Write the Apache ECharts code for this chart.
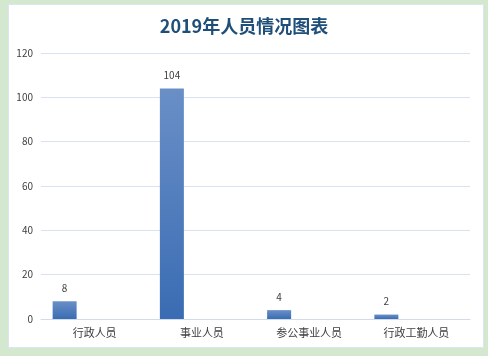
<!DOCTYPE html>
<html>
<head>
<meta charset="utf-8">
<script src="https://cdn.jsdelivr.net/npm/echarts@6/dist/echarts.min.js"></script>
<style>
html,body{margin:0;padding:0;background:#d3e8cf;}
#c{width:488px;height:356px;}
</style>
</head>
<body>
<div id="c"></div>
<script>
const titleText = '2019年人员情况图表';
const categories = ['行政人员', '事业人员', '参公事业人员', '行政工勤人员'];
const values = [8, 104, 4, 2];
const emptySeries = [null, null, null, null];
const yTicks = { min: 0, max: 120, interval: 20 };

const chart = echarts.init(document.getElementById('c'), null, { renderer: 'canvas' });
const font = '"Noto Sans CJK SC", "Noto Sans", sans-serif';
chart.setOption({
  backgroundColor: '#d3e8cf',
  animation: false,
  graphic: [{
    type: 'rect', z: -10, silent: true,
    shape: { x: 8.5, y: 4.5, width: 475, height: 343 },
    style: { fill: '#ffffff', stroke: '#dce6f2', lineWidth: 1 }
  }],
  title: {
    text: titleText, left: 'center', top: 12,
    textStyle: { fontFamily: font, fontSize: 18, fontWeight: 'bold', color: '#1f4e79' }
  },
  grid: { left: 41, right: 18, top: 53, bottom: 37, containLabel: false },
  xAxis: {
    type: 'category', data: categories,
    axisLine: { show: true, lineStyle: { color: '#d0dcea', width: 1 } },
    axisTick: { show: false },
    axisLabel: { fontFamily: font, fontSize: 11, color: '#404040', margin: 8 }
  },
  yAxis: {
    type: 'value', min: yTicks.min, max: yTicks.max, interval: yTicks.interval,
    axisLine: { show: false }, axisTick: { show: false },
    splitLine: { lineStyle: { color: '#d9e2f0', width: 1 } },
    axisLabel: { fontFamily: font, fontSize: 10, color: '#404040', margin: 8 }
  },
  series: [{
    type: 'bar', data: values, barWidth: 24, barGap: '150%',
    itemStyle: {
      color: new echarts.graphic.LinearGradient(0, 0, 0, 1, [
        { offset: 0, color: '#6a8fc7' },
        { offset: 1, color: '#3a6cb3' }
      ])
    },
    label: { show: true, position: 'top', distance: 8, fontFamily: font, fontSize: 10, color: '#404040' }
  }, {
    type: 'bar', data: emptySeries, barWidth: 24
  }]
});
</script>
</body>
</html>
